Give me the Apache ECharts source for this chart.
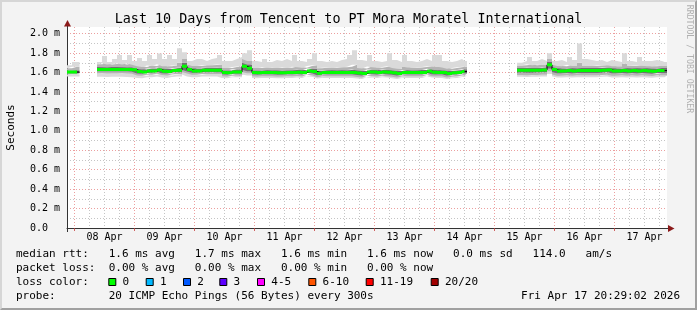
<!DOCTYPE html>
<html><head><meta charset="utf-8">
<script src="https://cdn.jsdelivr.net/npm/echarts@6/dist/echarts.min.js"></script>
<style>
html,body{margin:0;padding:0;background:#f3f3f3;}
#wrap{position:relative;width:697px;height:310px;}
#chart{width:697px;height:310px;}
#frame{position:absolute;left:0;top:0;width:697px;height:310px;box-sizing:border-box;border-top:2px solid #d6d6d6;border-left:2px solid #d6d6d6;border-right:2px solid #a0a0a0;border-bottom:2px solid #a0a0a0;pointer-events:none;}
</style></head><body>
<div id="wrap"><div id="chart"></div><div id="frame"></div></div>
<script>
// ---------- DATA (values in milliseconds) ----------
const dayLabels = ['08 Apr','09 Apr','10 Apr','11 Apr','12 Apr','13 Apr','14 Apr','15 Apr','16 Apr','17 Apr'];
const yTickLabels = ['0.0','0.2 m','0.4 m','0.6 m','0.8 m','1.0 m','1.2 m','1.4 m','1.6 m','1.8 m','2.0 m'];
// hours relative to 08 Apr 00:00; window is -3h .. 237h
const axisStartHour = -3;
const axisEndHour = 237;
const bucketHours = 2;
// segment start / end hours (gaps = no data)
const segStartHours = [-3, 9, 177];
const segEndHours = [1, 156, 236];

// segment 1
const s1Median = [1.605, 1.605];
const s1Min = [1.560, 1.560];
const s1P10 = [1.580, 1.582];
const s1P25 = [1.592, 1.593];
const s1P75 = [1.622, 1.625];
const s1P90 = [1.645, 1.660];
const s1Max = [1.675, 1.710];

// segment 2
const s2Median = [
1.631,1.631,1.631,1.631,1.631,1.631,1.631,1.628,1.610,1.607,
1.617,1.617,1.627,1.614,1.610,1.620,1.624,1.665,1.631,1.617,
1.617,1.624,1.624,1.624,1.624,1.600,1.597,1.607,1.607,1.665,
1.645,1.600,1.597,1.600,1.600,1.600,1.597,1.597,1.600,1.600,
1.603,1.600,1.617,1.612,1.593,1.600,1.600,1.600,1.600,1.600,
1.600,1.600,1.595,1.590,1.607,1.605,1.600,1.607,1.603,1.597,
1.590,1.600,1.600,1.600,1.600,1.600,1.614,1.603,1.600,1.600,
1.590,1.597,1.600,1.610];
const s2Max = [
1.71,1.77,1.71,1.74,1.78,1.73,1.78,1.72,1.75,1.72,
1.78,1.74,1.795,1.74,1.78,1.74,1.85,1.81,1.72,1.74,
1.74,1.72,1.74,1.75,1.78,1.72,1.72,1.74,1.76,1.80,
1.83,1.72,1.71,1.74,1.71,1.73,1.72,1.74,1.72,1.78,
1.72,1.71,1.74,1.80,1.72,1.71,1.72,1.71,1.73,1.74,
1.78,1.83,1.73,1.72,1.78,1.72,1.71,1.72,1.80,1.73,
1.71,1.78,1.72,1.71,1.72,1.74,1.72,1.78,1.78,1.72,
1.71,1.72,1.74,1.72];
const s2P90 = [
1.685,1.695,1.682,1.688,1.692,1.684,1.692,1.680,1.664,1.658,
1.672,1.668,1.685,1.666,1.664,1.672,1.700,1.740,1.682,1.668,
1.668,1.674,1.676,1.678,1.682,1.652,1.648,1.658,1.662,1.740,
1.720,1.652,1.648,1.654,1.650,1.652,1.648,1.652,1.650,1.660,
1.654,1.650,1.668,1.675,1.645,1.650,1.652,1.650,1.654,1.655,
1.660,1.680,1.646,1.642,1.662,1.655,1.650,1.658,1.665,1.648,
1.640,1.662,1.652,1.650,1.652,1.656,1.666,1.662,1.660,1.652,
1.640,1.648,1.654,1.660];
const s2P75 = [
1.656,1.655,1.658,1.656,1.657,1.655,1.658,1.652,1.636,1.632,
1.642,1.643,1.652,1.640,1.636,1.645,1.650,1.700,1.656,1.642,
1.643,1.650,1.649,1.650,1.651,1.625,1.622,1.633,1.632,1.700,
1.680,1.625,1.622,1.626,1.625,1.626,1.622,1.623,1.625,1.627,
1.628,1.625,1.643,1.640,1.618,1.625,1.626,1.625,1.627,1.625,
1.626,1.632,1.620,1.615,1.632,1.630,1.625,1.632,1.628,1.622,
1.615,1.626,1.625,1.625,1.626,1.627,1.640,1.628,1.625,1.626,
1.615,1.622,1.626,1.635];
const s2P25 = [
1.611,1.611,1.610,1.612,1.611,1.611,1.610,1.608,1.590,1.587,
1.597,1.598,1.607,1.594,1.590,1.600,1.604,1.628,1.611,1.597,
1.597,1.604,1.604,1.605,1.604,1.580,1.577,1.587,1.587,1.628,
1.613,1.580,1.577,1.580,1.580,1.580,1.577,1.577,1.580,1.580,
1.583,1.580,1.597,1.592,1.573,1.580,1.580,1.580,1.580,1.580,
1.580,1.580,1.575,1.570,1.587,1.585,1.580,1.587,1.583,1.577,
1.570,1.580,1.580,1.580,1.580,1.580,1.594,1.583,1.580,1.580,
1.570,1.577,1.580,1.590];
const s2P10 = [
1.591,1.592,1.590,1.591,1.591,1.592,1.590,1.588,1.570,1.568,
1.577,1.578,1.587,1.574,1.570,1.580,1.584,1.605,1.591,1.577,
1.577,1.584,1.584,1.585,1.584,1.560,1.557,1.567,1.567,1.605,
1.593,1.560,1.557,1.560,1.560,1.560,1.557,1.557,1.560,1.560,
1.563,1.560,1.577,1.572,1.553,1.560,1.560,1.560,1.560,1.560,
1.560,1.560,1.555,1.550,1.567,1.565,1.560,1.567,1.563,1.557,
1.550,1.560,1.560,1.560,1.560,1.560,1.574,1.563,1.560,1.560,
1.550,1.557,1.560,1.570];
const s2Min = [
1.556,1.558,1.555,1.557,1.556,1.558,1.555,1.553,1.545,1.542,
1.552,1.552,1.560,1.549,1.545,1.555,1.559,1.580,1.560,1.552,
1.552,1.559,1.559,1.560,1.559,1.545,1.542,1.552,1.552,1.580,
1.570,1.545,1.542,1.545,1.545,1.545,1.542,1.542,1.545,1.545,
1.548,1.545,1.562,1.557,1.538,1.545,1.545,1.545,1.545,1.545,
1.545,1.545,1.540,1.535,1.552,1.550,1.545,1.552,1.548,1.542,
1.535,1.545,1.545,1.545,1.545,1.545,1.559,1.548,1.545,1.545,
1.535,1.542,1.545,1.555];

// segment 3
const s3Median = [
1.624,1.624,1.624,1.624,1.624,1.627,1.680,1.631,1.617,1.617,
1.620,1.617,1.620,1.620,1.620,1.620,1.620,1.624,1.627,1.617,
1.617,1.620,1.617,1.620,1.617,1.620,1.617,1.614,1.620,1.620];
const s3Max = [
1.70,1.72,1.76,1.72,1.74,1.72,1.80,1.72,1.73,1.71,
1.76,1.73,1.90,1.74,1.73,1.72,1.73,1.71,1.73,1.72,
1.71,1.80,1.72,1.71,1.76,1.72,1.72,1.73,1.72,1.71];
const s3P90 = [
1.672,1.676,1.685,1.675,1.680,1.678,1.740,1.682,1.668,1.665,
1.680,1.668,1.700,1.672,1.670,1.668,1.672,1.674,1.678,1.666,
1.665,1.690,1.668,1.670,1.675,1.670,1.666,1.664,1.670,1.668];
const s3P75 = [
1.651,1.650,1.652,1.651,1.650,1.654,1.710,1.658,1.644,1.643,
1.647,1.644,1.648,1.647,1.646,1.647,1.648,1.651,1.654,1.644,
1.643,1.648,1.644,1.647,1.645,1.647,1.644,1.641,1.647,1.646];
const s3P25 = [
1.599,1.600,1.598,1.599,1.600,1.602,1.640,1.606,1.592,1.593,
1.595,1.592,1.596,1.595,1.595,1.596,1.595,1.599,1.602,1.592,
1.592,1.595,1.593,1.595,1.592,1.596,1.592,1.589,1.595,1.596];
const s3P10 = [
1.574,1.575,1.573,1.575,1.574,1.577,1.610,1.581,1.567,1.568,
1.570,1.567,1.571,1.570,1.570,1.571,1.570,1.574,1.577,1.567,
1.567,1.570,1.568,1.570,1.567,1.571,1.567,1.564,1.570,1.571];
const s3Min = [
1.556,1.557,1.555,1.556,1.556,1.559,1.585,1.562,1.550,1.550,
1.552,1.549,1.553,1.552,1.552,1.553,1.552,1.556,1.559,1.549,
1.549,1.552,1.550,1.552,1.549,1.553,1.549,1.546,1.552,1.553];

const lossLabels = ['0','1','2','3','4-5','6-10','11-19','20/20'];
const lossColors = ['#00ff00','#00b8ff','#0059ff','#5e00ff','#ff00ff','#ff5500','#ff0000','#a10000'];

// ---------- BUILD ----------
const segs = [
  {median:s1Median,min:s1Min,p10:s1P10,p25:s1P25,p75:s1P75,p90:s1P90,max:s1Max},
  {median:s2Median,min:s2Min,p10:s2P10,p25:s2P25,p75:s2P75,p90:s2P90,max:s2Max},
  {median:s3Median,min:s3Min,p10:s3P10,p25:s3P25,p75:s3P75,p90:s3P90,max:s3Max}
];
const cats = [];
for (let h = axisStartHour; h <= axisEndHour; h++) cats.push(String(h));
const idxOf = h => h - axisStartHour;

function points(fn) {
  const out = [];
  segs.forEach((s, si) => {
    const n = s.median.length;
    let last = null;
    for (let i = 0; i < n; i++) {
      last = fn(s, i);
      out.push([idxOf(segStartHours[si] + i * bucketHours), last]);
    }
    out.push([idxOf(segEndHours[si]), last]);
    out.push([idxOf(segEndHours[si]) + 1, null]);
  });
  return out;
}
function medianDashes() {
  const out = [];
  segs.forEach((s, si) => {
    const n = s.median.length;
    for (let i = 0; i < n; i++) {
      const x0 = idxOf(segStartHours[si] + i * bucketHours);
      const x1 = i < n - 1 ? idxOf(segStartHours[si] + (i + 1) * bucketHours) : idxOf(segEndHours[si]);
      out.push([x0, s.median[i]], [x1, s.median[i]], [x1, null]);
    }
  });
  return out;
}

const LIGHT = '#dadada', MID = '#b4b4b4', DARK = '#707070';
const layers = [
  ['min', null, 'transparent'],
  ['p10', 'min', LIGHT],
  ['p25', 'p10', MID],
  ['p75', 'p25', DARK],
  ['p90', 'p75', MID],
  ['max', 'p90', LIGHT]
];
const series = layers.map(([hi, lo, col]) => ({
  type: 'line', stack: 'smoke', step: 'end', symbol: 'none', silent: true,
  z: 2, lineStyle: {width: 0, opacity: 0},
  areaStyle: {color: col, opacity: col === 'transparent' ? 0 : 1},
  data: points((s, i) => lo ? +(s[hi][i] - s[lo][i]).toFixed(4) : s[hi][i])
}));
series.push({
  type: 'line', step: 'end', symbol: 'none', silent: true, z: 3,
  lineStyle: {width: 1, color: '#000'},
  data: points((s, i) => s.median[i])
});
series.push({
  type: 'line', symbol: 'none', silent: true, z: 4, connectNulls: false,
  lineStyle: {width: 3, color: '#00ff00', cap: 'butt'},
  data: medianDashes()
});

const MONO = 'DejaVu Sans Mono';
const RED = 'rgba(220,80,80,0.55)';
const GREY = 'rgba(140,140,140,0.5)';
const yColors = [];
for (let k = 0; k <= 20; k++) yColors.push(k % 2 === 0 ? RED : GREY);
yColors.push('rgba(0,0,0,0)');

const isMidnight = (idx) => (idx + axisStartHour) % 24 === 0;
const isSixH = (idx) => { const h = idx + axisStartHour; return h % 6 === 0 && h % 24 !== 0; };

// legend graphic
const txt = (x, y, text, extra) => Object.assign({
  type: 'text', x: x, y: y, silent: true,
  style: {text: text, font: '11px "' + MONO + '"', fill: '#000', align: 'left', verticalAlign: 'middle'}
}, extra || {});
const rowY = [254.5, 268.4, 282.2, 296.2];
const lossBoxX = [108.3, 145.7, 183.0, 219.3, 257.0, 308.3, 365.7, 430.7];
const graphic = [
  txt(16, rowY[0], 'median rtt:   1.6 ms avg   1.7 ms max   1.6 ms min   1.6 ms now   0.0 ms sd   114.0   am/s'),
  txt(16, rowY[1], 'packet loss:  0.00 % avg   0.00 % max   0.00 % min   0.00 % now'),
  txt(16, rowY[2], 'loss color:'),
  txt(16, rowY[3], 'probe:        20 ICMP Echo Pings (56 Bytes) every 300s'),
  {type: 'text', x: 680, y: rowY[3], silent: true,
   style: {text: 'Fri Apr 17 20:29:02 2026', font: '11px "' + MONO + '"', fill: '#000', align: 'right', verticalAlign: 'middle'}},
  {type: 'text', x: 689.3, y: 59, rotation: -Math.PI / 2, silent: true,
   style: {text: 'RRDTOOL / TOBI OETIKER', font: '8.2px "' + MONO + '"', fill: '#b0b0b0', align: 'center', verticalAlign: 'middle'}},
  // axis arrows
  {type: 'line', silent: true, shape: {x1: 67.5, y1: 27, x2: 67.5, y2: 22}, style: {stroke: '#333', lineWidth: 1}},
  {type: 'polygon', silent: true, shape: {points: [[64, 26.5], [71, 26.5], [67.5, 20]]}, style: {fill: '#8b1a1a'}},
  {type: 'line', silent: true, shape: {x1: 667, y1: 228.5, x2: 669, y2: 228.5}, style: {stroke: '#333', lineWidth: 1}},
  {type: 'polygon', silent: true, shape: {points: [[668, 225], [668, 232], [674.5, 228.5]]}, style: {fill: '#8b1a1a'}},
  {type: 'line', silent: true, shape: {x1: 67.5, y1: 228, x2: 67.5, y2: 232}, style: {stroke: '#333', lineWidth: 1}}
];
lossLabels.forEach((lab, i) => {
  graphic.push({type: 'rect', silent: true, shape: {x: lossBoxX[i] + 0.5, y: 278.5, width: 7, height: 7},
    style: {fill: lossColors[i], stroke: '#000', lineWidth: 1}});
  graphic.push(txt(lossBoxX[i] + 14.3, rowY[2], lab));
});

const chart = echarts.init(document.getElementById('chart'), null, {renderer: 'canvas'});
chart.setOption({
  animation: false,
  backgroundColor: '#f3f3f3',
  title: {
    text: 'Last 10 Days from Tencent to PT Mora Moratel International',
    left: 'center', top: 13, padding: 0,
    textStyle: {fontFamily: MONO, fontSize: 13.4, fontWeight: 'normal', color: '#000'}
  },
  grid: {left: 67, right: 30, top: 27, bottom: 82, show: true, backgroundColor: '#ffffff', borderWidth: 0, containLabel: false, outerBoundsMode: 'none'},
  xAxis: [
    {
      type: 'category', data: cats, boundaryGap: false,
      axisLine: {show: true, lineStyle: {color: '#333', width: 1}},
      axisTick: {show: true, interval: isMidnight, length: 3, lineStyle: {color: 'rgba(200,60,60,0.8)'}},
      axisLabel: {
        interval: 0, margin: 4, fontFamily: MONO, fontSize: 10, color: '#000',
        formatter: (val) => { const h = Number(val); return (h >= 0 && h % 24 === 12) ? dayLabels[(h - 12) / 24] : ''; }
      },
      splitLine: {show: true, interval: isMidnight, lineStyle: {color: RED, type: [1, 2], width: 1}}
    },
    {
      type: 'category', data: cats, boundaryGap: false, position: 'bottom',
      axisLine: {show: false}, axisTick: {show: false}, axisLabel: {show: false},
      splitLine: {show: true, interval: isSixH, lineStyle: {color: GREY, type: [1, 2], width: 1}}
    }
  ],
  yAxis: {
    type: 'value', min: 0, max: 2.069, interval: 0.1,
    axisLine: {show: true, lineStyle: {color: '#333', width: 1}},
    axisTick: {show: false},
    axisLabel: {
      align: 'left', margin: 37, fontFamily: MONO, fontSize: 10, color: '#000',
      formatter: (v) => { const k = Math.round(v * 10); if (Math.abs(v * 10 - k) > 1e-6 || k % 2) return ''; return yTickLabels[k / 2] || ''; }
    },
    splitLine: {show: true, lineStyle: {color: yColors, type: [1, 2], width: 1}},
    name: 'Seconds', nameLocation: 'middle', nameGap: 50,
    nameTextStyle: {fontFamily: MONO, fontSize: 11, color: '#000'}
  },
  series: series,
  graphic: graphic
});
</script>
</body></html>
